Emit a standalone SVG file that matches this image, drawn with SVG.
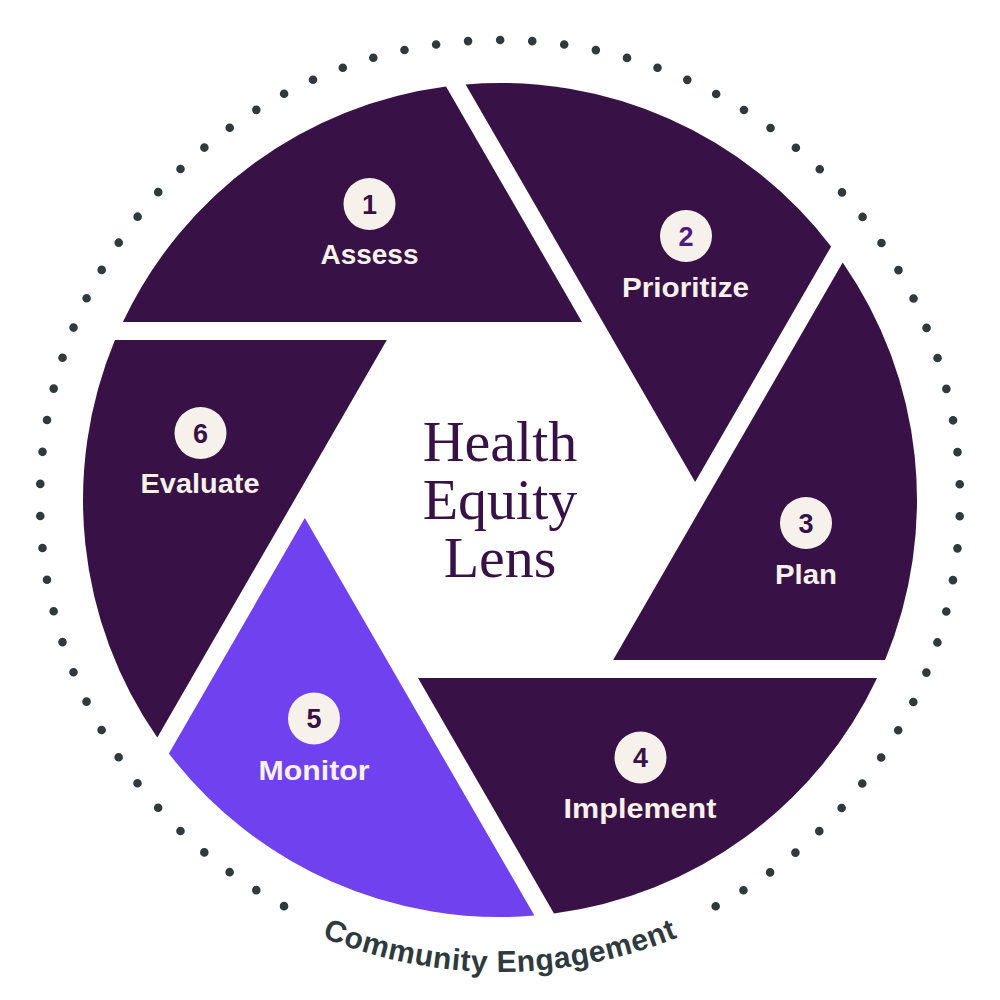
<svg xmlns="http://www.w3.org/2000/svg" xmlns:xlink="http://www.w3.org/1999/xlink" width="1000" height="1000" viewBox="0 0 1000 1000">
  <style>
    .blade { fill: #381246; }
    .blade.hi { fill: #7041ee; }
    .badge { fill: #f6f1ea; }
    .num { font-family: "Liberation Sans", Arial, sans-serif; font-weight: 700; font-size: 27px; fill: #381246; text-anchor: middle; }
    .lbl { font-family: "Liberation Sans", Arial, sans-serif; font-weight: 700; font-size: 28px; fill: #f6f1ea; text-anchor: middle; }
    .center { font-family: "Liberation Serif", "Times New Roman", serif; font-size: 58px; fill: #381246; text-anchor: middle; }
    .ring { fill: none; stroke: #2e3a3e; stroke-width: 8.6; stroke-linecap: round; stroke-dasharray: 0 32.114; }
    .arc-text { font-family: "Liberation Sans", Arial, sans-serif; font-weight: 700; font-size: 30px; fill: #2e3a3e; letter-spacing: 0.6px; }
  </style>
  <defs>
    <path id="blade" d="M122.9,322 L581.98,322 L446.02,86.51 A417,417 0 0 0 122.9,322 Z"/>
    <path id="textArc" d="M91.24,736 A472,472 0 0 0 908.76,736"/>
  </defs>
  <rect width="1000" height="1000" fill="#ffffff"/>

  <g id="community-ring">
    <path class="ring" d="M284.04,906.16 A460,460 0 1 1 715.25,906.54"/>
    <text class="arc-text"><textPath xlink:href="#textArc" href="#textArc" startOffset="50%" text-anchor="middle">Community Engagement</textPath></text>
  </g>

  <g id="connectors"></g>

  <g id="step1-assess">
    <use href="#blade" xlink:href="#blade" class="blade"/>
    <circle class="badge" cx="369.5" cy="204" r="26"/>
    <text class="num" x="369.5" y="213.5">1</text>
    <text class="lbl" x="369.5" y="264" textLength="98" lengthAdjust="spacingAndGlyphs">Assess</text>
  </g>

  <g id="step2-prioritize">
    <use href="#blade" xlink:href="#blade" class="blade" transform="rotate(60 500 500)"/>
    <circle class="badge" cx="686" cy="236" r="26"/>
    <text class="num" x="686" y="245.5" style="fill:#4e1c7c">2</text>
    <text class="lbl" x="685.5" y="296.5" textLength="127" lengthAdjust="spacingAndGlyphs">Prioritize</text>
  </g>

  <g id="step3-plan">
    <use href="#blade" xlink:href="#blade" class="blade" transform="rotate(120 500 500)"/>
    <circle class="badge" cx="806" cy="523" r="26"/>
    <text class="num" x="806" y="532.5">3</text>
    <text class="lbl" x="806" y="583.5" textLength="62" lengthAdjust="spacingAndGlyphs">Plan</text>
  </g>

  <g id="step4-implement">
    <use href="#blade" xlink:href="#blade" class="blade" transform="rotate(180 500 500)"/>
    <circle class="badge" cx="640.5" cy="757.5" r="26"/>
    <text class="num" x="640.5" y="767">4</text>
    <text class="lbl" x="640" y="817.5" textLength="153" lengthAdjust="spacingAndGlyphs">Implement</text>
  </g>

  <g id="step5-monitor">
    <use href="#blade" xlink:href="#blade" class="blade hi" transform="rotate(240 500 500)"/>
    <circle class="badge" cx="314" cy="718.5" r="26"/>
    <text class="num" x="314" y="728">5</text>
    <text class="lbl" x="314" y="779.5" textLength="111" lengthAdjust="spacingAndGlyphs">Monitor</text>
  </g>

  <g id="step6-evaluate">
    <use href="#blade" xlink:href="#blade" class="blade" transform="rotate(300 500 500)"/>
    <circle class="badge" cx="200.5" cy="433" r="26"/>
    <text class="num" x="200.5" y="442.5">6</text>
    <text class="lbl" x="200" y="493" textLength="119" lengthAdjust="spacingAndGlyphs">Evaluate</text>
  </g>

  <g id="center-title">
    <text class="center" x="500" y="461">Health</text>
    <text class="center" x="500" y="519">Equity</text>
    <text class="center" x="500" y="577">Lens</text>
  </g>
</svg>
